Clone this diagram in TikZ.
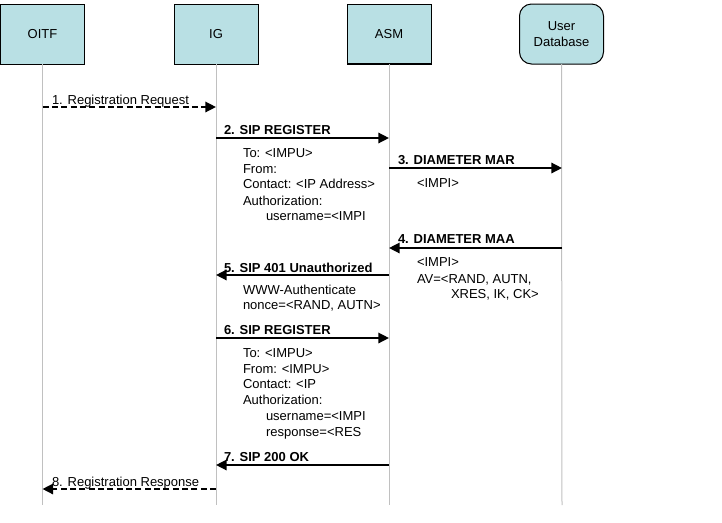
\documentclass[tikz,border=0pt]{standalone}
\usepackage{fontspec}
\setmainfont{Liberation Sans}
\usetikzlibrary{arrows.meta}
\definecolor{boxfill}{RGB}{185,224,228}
\definecolor{lifegray}{RGB}{192,192,192}
\begin{document}
\begin{tikzpicture}[x=0.75pt,y=-0.75pt,
  every node/.style={font=\fontsize{9.75pt}{12pt}\selectfont, inner sep=0pt, outer sep=0pt},
  actor/.style={draw=black, line width=0.75pt, fill=boxfill, minimum width=63pt, minimum height=45pt, align=center},
  life/.style={draw=lifegray, line width=0.75pt},
  msg/.style={line width=1.5pt, -{Triangle[length=8pt,width=7.8pt]}},
  dmsg/.style={msg, dash pattern=on 4.5pt off 2.5pt},
  lbl/.style={anchor=base west},
  bld/.style={anchor=base west, font=\fontsize{9.75pt}{12pt}\selectfont\bfseries},
  txt/.style={anchor=base west}]
\useasboundingbox (0,0) rectangle (722,522);
% actors
\node[actor] (oitf) at (42.5,34) {OITF};
\node[actor] (ig) at (216,34) {IG};
\node[actor] (asm) at (389,34) {ASM};
\node[actor, rounded corners=9pt] (ud) at (561.5,34) {User\\Database};
\draw[line width=1.5pt] (asm.south west) -- (asm.south east);
% lifeline ends
\coordinate (oitfE) at (42.5,505);
\coordinate (igE) at (216,505);
\coordinate (asmE) at (389,505);
\coordinate (udE) at (562,505);
\draw[life] (oitf.south) -- (oitfE);
\draw[life] (ig.south) -- (igE);
\draw[life] (asm.south) -- (asmE);
\draw[life] (ud.south) -- (udE);
% message end points
\coordinate (o1) at (42.5,107);  \coordinate (i1) at (216,107);
\coordinate (i2) at (216,138);   \coordinate (a2) at (389,138);
\coordinate (a3) at (389,168);   \coordinate (u3) at (562,168);
\coordinate (u4) at (562,248);   \coordinate (a4) at (389,248);
\coordinate (a5) at (389,275);   \coordinate (i5) at (216,275);
\coordinate (i6) at (216,338);   \coordinate (a6) at (389,338);
\coordinate (a7) at (389,465);   \coordinate (i7) at (216,465);
\coordinate (i8) at (216,489);   \coordinate (o8) at (42.5,489);
% messages
\draw[dmsg] (o1) -- (i1);
\draw[msg] (i2) -- (a2);
\draw[msg] (a3) -- (u3);
\draw[msg] (u4) -- (a4);
\draw[msg] (a5) -- (i5);
\draw[msg] (i6) -- (a6);
\draw[msg] (a7) -- (i7);
\draw[dmsg] (i8) -- (o8);
% labels
\node[lbl] (l1) at (52,104.5) {1. Registration Request};
\node[bld] (l2) at (224,134) {2. SIP REGISTER};
\node[bld] (l3) at (398,164) {3. DIAMETER MAR};
\node[bld] (l4) at (398,243) {4. DIAMETER MAA};
\node[bld] (l5) at (224,272) {5. SIP 401 Unauthorized};
\node[bld] (l6) at (224,334) {6. SIP REGISTER};
\node[bld] (l7) at (224,461) {7. SIP 200 OK};
\node[lbl] (l8) at (52,486.5) {8. Registration Response};
% message 2 body
\node[txt] (t2a) at (243,157) {To: <IMPU>};
\node[txt] (t2b) at (243,173) {From:};
\node[txt] (t2c) at (243,188) {Contact: <IP Address>};
\node[txt] (t2d) at (243,205) {Authorization:};
\node[txt] (t2e) at (266,220) {username=<IMPI};
% message 3 body
\node[txt] (t3a) at (417,187) {<IMPI>};
% message 4 body
\node[txt] (t4a) at (417,266) {<IMPI>};
\node[txt] (t4b) at (417,283) {AV=<RAND, AUTN,};
\node[txt] (t4c) at (451,298) {XRES, IK, CK>};
% message 5 body
\node[txt] (t5a) at (243,294) {WWW-Authenticate};
\node[txt] (t5b) at (243,309) {nonce=<RAND, AUTN>};
% message 6 body
\node[txt] (t6a) at (243,357) {To: <IMPU>};
\node[txt] (t6b) at (243,373) {From: <IMPU>};
\node[txt] (t6c) at (243,388) {Contact: <IP};
\node[txt] (t6d) at (243,404) {Authorization:};
\node[txt] (t6e) at (266,420) {username=<IMPI};
\node[txt] (t6f) at (266,436) {response=<RES};
\end{tikzpicture}
\end{document}
